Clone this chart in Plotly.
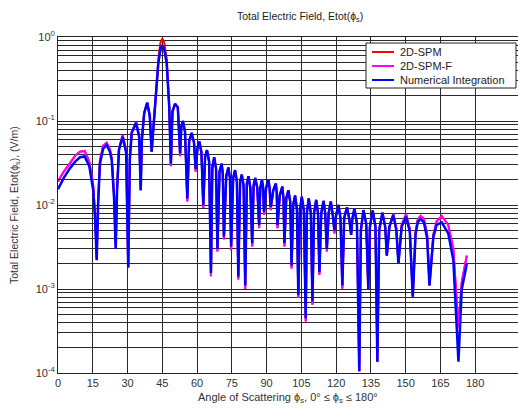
import plotly.graph_objects as go

# Scattering angle (degrees)
angle_deg = [
    0.0, 2.5, 5.2, 7.5, 9.5, 11.5, 13.5, 15.2, 16.0, 16.7,
    17.3, 18.1, 19.5, 21.0, 22.4, 23.2, 24.2, 24.9,
    25.5, 26.3, 27.9, 29.4, 30.3,
    31.0, 31.8, 33.7, 35.0, 35.7,
    36.2, 37.2, 38.5, 39.6, 40.4,
    41.3, 42.3, 43.3, 44.2, 45.0, 45.9, 46.9, 48.0, 48.7,
    49.4, 50.5, 51.7, 52.7,
    53.2, 53.9, 54.8, 55.8,
    56.6, 57.7, 58.7, 59.4,
    60.2, 61.0, 61.9, 62.7,
    63.5, 64.3, 65.2, 66.0,
    66.6, 67.4, 68.2, 68.8,
    69.7, 70.6, 71.1, 71.6,
    72.6, 73.5, 74.2, 74.7,
    75.6, 76.4, 77.2, 77.8,
    78.6, 79.3, 80.1, 80.8,
    81.5, 82.2, 83.0, 83.8,
    84.4, 85.1, 86.0, 86.8,
    87.3, 88.0, 88.5, 88.9,
    89.8, 90.8, 91.3, 91.8,
    92.9, 94.0, 94.4, 94.7,
    95.7, 96.8, 97.3, 97.7,
    98.5, 99.4, 100.2, 100.8,
    101.5, 102.3, 103.1, 103.7,
    104.4, 105.2, 106.1, 106.9,
    107.4, 108.2, 109.1, 109.8,
    110.5, 111.4, 112.2, 112.8,
    113.6, 114.6, 115.3, 116.0,
    116.8, 117.7, 118.6, 119.3,
    120.0, 121.0, 121.9, 122.7,
    123.5, 124.7, 125.7, 126.5,
    127.0, 127.9, 129.0, 130.0,
    130.7, 131.8, 133.0, 133.9,
    134.6, 135.8, 137.0, 137.8,
    138.6, 140.0, 141.2, 141.9,
    143.0, 144.7, 146.0, 146.9,
    148.3, 150.2, 151.8, 153.1,
    154.3, 155.3, 156.5, 157.9, 159.3, 160.3,
    162.0, 163.4, 165.6, 168.4, 170.6, 172.8,
    174.2, 176.4,
]

# Numerical integration, |Etot| (V/m)
e_numerical = [
    0.0154, 0.021, 0.0275, 0.033, 0.037, 0.0378, 0.029, 0.015, 0.007, 0.0022,
    0.010, 0.031, 0.047, 0.052, 0.043, 0.034, 0.012, 0.0030,
    0.015, 0.045, 0.065, 0.042, 0.0018,
    0.035, 0.072, 0.095, 0.065, 0.015,
    0.060, 0.125, 0.165, 0.115, 0.043,
    0.10, 0.195, 0.49, 0.72, 0.80, 0.70, 0.49, 0.148, 0.031,
    0.13, 0.16, 0.145, 0.041,
    0.085, 0.100, 0.075, 0.012,
    0.058, 0.072, 0.055, 0.027,
    0.048, 0.057, 0.042, 0.010,
    0.038, 0.045, 0.033, 0.00155,
    0.028, 0.037, 0.027, 0.0030,
    0.025, 0.031, 0.024, 0.0042,
    0.022, 0.028, 0.021, 0.0032,
    0.021, 0.026, 0.019, 0.0014,
    0.019, 0.023, 0.017, 0.0011,
    0.018, 0.022, 0.016, 0.0035,
    0.017, 0.021, 0.016, 0.0058,
    0.016, 0.020, 0.016, 0.0083,
    0.016, 0.020, 0.016, 0.0095,
    0.015, 0.018, 0.014, 0.0058,
    0.013, 0.0166, 0.012, 0.0035,
    0.012, 0.015, 0.011, 0.0019,
    0.010, 0.013, 0.009, 0.00085,
    0.0085, 0.0126, 0.0085, 0.00045,
    0.008, 0.012, 0.008, 0.00071,
    0.008, 0.0115, 0.008, 0.0016,
    0.008, 0.0112, 0.008, 0.0030,
    0.008, 0.011, 0.0075, 0.0050,
    0.0075, 0.010, 0.007, 0.0011,
    0.007, 0.0094, 0.0068, 0.0044,
    0.0068, 0.0091, 0.006, 0.000105,
    0.005, 0.0087, 0.006, 0.0010,
    0.0055, 0.0086, 0.0055, 0.000136,
    0.005, 0.0081, 0.0055, 0.0025,
    0.0055, 0.0076, 0.005, 0.0020,
    0.0055, 0.0073, 0.0048, 0.00081,
    0.0045, 0.0063, 0.0068, 0.0062, 0.0040, 0.0011,
    0.0042, 0.0058, 0.0062, 0.0046, 0.0022, 0.000136,
    0.00098, 0.0020,
]

# 2D-SPM-F, |Etot| (V/m)
e_spm_f = [
    0.019, 0.025, 0.0315, 0.039, 0.043, 0.044, 0.033, 0.017, 0.0075, 0.0023,
    0.011, 0.034, 0.051, 0.055, 0.046, 0.036, 0.013, 0.0032,
    0.016, 0.047, 0.068, 0.044, 0.0018,
    0.036, 0.074, 0.097, 0.067, 0.015,
    0.060, 0.125, 0.165, 0.115, 0.043,
    0.10, 0.195, 0.49, 0.72, 0.80, 0.70, 0.49, 0.148, 0.029,
    0.13, 0.16, 0.145, 0.038,
    0.085, 0.100, 0.075, 0.011,
    0.058, 0.072, 0.055, 0.025,
    0.048, 0.057, 0.042, 0.0092,
    0.038, 0.045, 0.033, 0.00142,
    0.028, 0.037, 0.027, 0.0028,
    0.025, 0.031, 0.024, 0.0039,
    0.022, 0.028, 0.021, 0.0029,
    0.021, 0.026, 0.019, 0.0013,
    0.019, 0.023, 0.017, 0.00100,
    0.018, 0.022, 0.016, 0.0032,
    0.017, 0.021, 0.016, 0.0053,
    0.016, 0.020, 0.016, 0.0076,
    0.016, 0.020, 0.016, 0.0087,
    0.015, 0.018, 0.014, 0.0053,
    0.013, 0.0166, 0.012, 0.0032,
    0.012, 0.015, 0.011, 0.00175,
    0.010, 0.013, 0.009, 0.00078,
    0.0085, 0.0126, 0.0085, 0.00041,
    0.008, 0.012, 0.008, 0.00065,
    0.008, 0.0115, 0.008, 0.00147,
    0.008, 0.0112, 0.008, 0.0028,
    0.008, 0.011, 0.0075, 0.0046,
    0.0075, 0.010, 0.007, 0.00101,
    0.007, 0.0094, 0.0068, 0.0044,
    0.0068, 0.0091, 0.006, 0.000105,
    0.005, 0.0087, 0.006, 0.0010,
    0.0055, 0.0086, 0.0055, 0.000136,
    0.005, 0.0081, 0.0055, 0.0025,
    0.0055, 0.0078, 0.0052, 0.0020,
    0.0058, 0.0078, 0.0052, 0.00081,
    0.0048, 0.0068, 0.0074, 0.0068, 0.0045, 0.0011,
    0.0045, 0.0064, 0.0074, 0.0058, 0.0030, 0.00035,
    0.0012, 0.0025,
]

# 2D-SPM, |Etot| (V/m)
e_spm = [
    0.019, 0.025, 0.0315, 0.039, 0.043, 0.044, 0.033, 0.017, 0.0075, 0.0023,
    0.011, 0.034, 0.051, 0.055, 0.046, 0.036, 0.013, 0.0032,
    0.016, 0.047, 0.068, 0.044, 0.0018,
    0.036, 0.074, 0.097, 0.067, 0.015,
    0.060, 0.125, 0.165, 0.115, 0.043,
    0.10, 0.20, 0.55, 0.85, 0.96, 0.84, 0.55, 0.15, 0.029,
    0.13, 0.16, 0.145, 0.038,
    0.085, 0.100, 0.075, 0.011,
    0.058, 0.072, 0.055, 0.025,
    0.048, 0.057, 0.042, 0.0092,
    0.038, 0.045, 0.033, 0.00142,
    0.028, 0.037, 0.027, 0.0028,
    0.025, 0.031, 0.024, 0.0039,
    0.022, 0.028, 0.021, 0.0029,
    0.021, 0.026, 0.019, 0.0013,
    0.019, 0.023, 0.017, 0.00100,
    0.018, 0.022, 0.016, 0.0032,
    0.017, 0.021, 0.016, 0.0053,
    0.016, 0.020, 0.016, 0.0076,
    0.016, 0.020, 0.016, 0.0087,
    0.015, 0.018, 0.014, 0.0053,
    0.013, 0.0166, 0.012, 0.0032,
    0.012, 0.015, 0.011, 0.00175,
    0.010, 0.013, 0.009, 0.00078,
    0.0085, 0.0126, 0.0085, 0.00041,
    0.008, 0.012, 0.008, 0.00065,
    0.008, 0.0115, 0.008, 0.00147,
    0.008, 0.0112, 0.008, 0.0028,
    0.008, 0.011, 0.0075, 0.0046,
    0.0075, 0.010, 0.007, 0.00101,
    0.007, 0.0094, 0.0068, 0.0044,
    0.0068, 0.0091, 0.006, 0.000105,
    0.005, 0.0087, 0.006, 0.0010,
    0.0055, 0.0086, 0.0055, 0.000136,
    0.005, 0.0081, 0.0055, 0.0025,
    0.0055, 0.0078, 0.0052, 0.0020,
    0.0058, 0.0078, 0.0052, 0.00081,
    0.0048, 0.0068, 0.0074, 0.0068, 0.0045, 0.0011,
    0.0045, 0.0064, 0.0074, 0.0058, 0.0030, 0.00035,
    0.0012, 0.0025,
]

series_names = ["2D-SPM", "2D-SPM-F", "Numerical Integration"]
series_colors = ["#ff0000", "#ff00ff", "#0000ff"]
series_widths = [2, 2, 2.5]

x_ticks = [0, 15, 30, 45, 60, 75, 90, 105, 120, 135, 150, 165, 180]
decades = [-4, -3, -2, -1, 0]

y_tickvals = [10.0 ** k for k in decades]
y_ticktext = [f"10<sup>{k}</sup>" for k in decades]
# minor log grid at 2..9 x 10^k
y_minor = [m * 10.0 ** k for k in decades[:-1] for m in range(2, 10)]

FONT = "Arial, Liberation Sans, sans-serif"
GRID = "#2a2a2a"

fig = go.Figure()
for ys, name, color, w in zip([e_spm, e_spm_f, e_numerical], series_names,
                              series_colors, series_widths):
    fig.add_trace(go.Scatter(x=angle_deg, y=ys, mode="lines", name=name,
                             showlegend=False, line=dict(color=color, width=w)))

# pixel -> paper helpers for the boxed legend in the upper right
L, R, T, B = 58, 518, 37, 373
def px(xp):
    return (xp - L) / (R - L)
def py(yp):
    return (B - yp) / (B - T)

shapes = [dict(type="rect", xref="paper", yref="paper",
               x0=px(366), x1=px(516), y0=py(88), y1=py(43),
               line=dict(color="#222", width=1), fillcolor="white", layer="above")]
annotations = []
for i, (name, color, w) in enumerate(zip(series_names, series_colors, series_widths)):
    yy = 52 + 14 * i
    shapes.append(dict(type="line", xref="paper", yref="paper",
                       x0=px(372), x1=px(394), y0=py(yy), y1=py(yy),
                       line=dict(color=color, width=2), layer="above"))
    annotations.append(dict(text=name, xref="paper", yref="paper",
                            x=px(398), y=py(yy), xanchor="left", yanchor="middle",
                            showarrow=False, font=dict(size=11, color="#222")))

annotations += [
    dict(text="Total Electric Field, Etot(ϕ<sub>s</sub>)", xref="paper", yref="paper",
         x=px(300), y=py(17), xanchor="center", yanchor="middle",
         showarrow=False, font=dict(size=10.5, color="#222")),
    dict(text="Angle of Scattering ϕ<sub>s</sub>, 0° ≤ ϕ<sub>s</sub> ≤ 180°", xref="paper", yref="paper",
         x=px(288), y=py(398), xanchor="center", yanchor="middle",
         showarrow=False, font=dict(size=11, color="#333")),
    dict(text="Total Electric Field, Etot(ϕ<sub>s</sub>), (V/m)", xref="paper", yref="paper",
         x=px(15), y=0.5, xanchor="center", yanchor="middle", textangle=-90,
         showarrow=False, font=dict(size=10.5, color="#333")),
]

fig.update_layout(
    width=518, height=408,
    margin=dict(l=L, r=518 - R, t=T, b=408 - B),
    paper_bgcolor="white", plot_bgcolor="white",
    font=dict(family=FONT, size=11, color="#222"),
    showlegend=False,
    xaxis=dict(range=[0, 198.5], tickmode="array", tickvals=x_ticks,
               showgrid=True, gridcolor=GRID, gridwidth=1,
               zeroline=False, showline=True, linecolor="#222", linewidth=1,
               mirror=True, ticks="inside", ticklen=4, tickcolor="#222",
               tickfont=dict(size=11, color="#333")),
    yaxis=dict(type="log", range=[-4, 0], tickmode="array",
               tickvals=y_tickvals, ticktext=y_ticktext,
               showgrid=True, gridcolor=GRID, gridwidth=1,
               minor=dict(tickmode="array", tickvals=y_minor, showgrid=True,
                          gridcolor=GRID, gridwidth=1, ticks="inside",
                          ticklen=3, tickcolor="#222"),
               zeroline=False, showline=True, linecolor="#222", linewidth=1,
               ticks="inside", ticklen=4, tickcolor="#222",
               tickfont=dict(size=11, color="#333")),
    shapes=shapes,
    annotations=annotations,
)

fig.write_html("out.html")
